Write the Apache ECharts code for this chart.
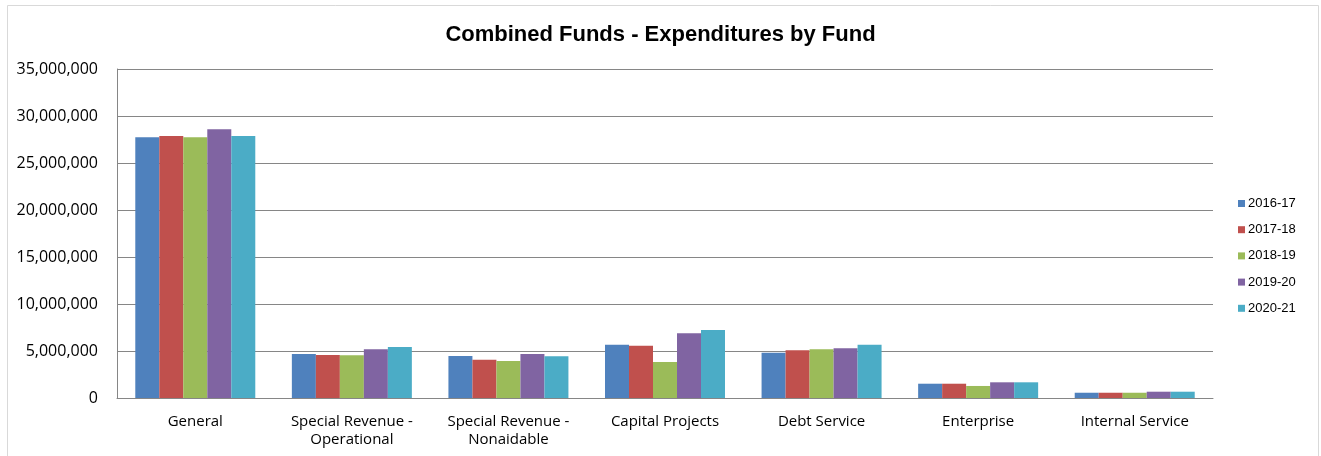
<!DOCTYPE html>
<html>
<head>
<meta charset="utf-8">
<script src="https://cdn.jsdelivr.net/npm/echarts@6/dist/echarts.min.js"></script>
<style>
html,body{margin:0;padding:0;background:#fff;}
#c{width:1321px;height:456px;}
</style>
</head>
<body>
<div id="c"></div>
<script>
const categories = ['General', 'Special Revenue -\nOperational', 'Special Revenue -\nNonaidable', 'Capital Projects', 'Debt Service', 'Enterprise', 'Internal Service'];
const seriesNames = ['2016-17', '2017-18', '2018-19', '2019-20', '2020-21'];
const fy2016 = [27730000, 4680000, 4470000, 5670000, 4820000, 1520000, 560000];
const fy2017 = [27870000, 4570000, 4070000, 5570000, 5070000, 1520000, 560000];
const fy2018 = [27750000, 4560000, 3940000, 3830000, 5180000, 1280000, 560000];
const fy2019 = [28580000, 5180000, 4680000, 6880000, 5290000, 1670000, 670000];
const fy2020 = [27870000, 5430000, 4430000, 7230000, 5670000, 1670000, 670000];
const colors = ['#4F81BD', '#C0504D', '#9BBB59', '#8064A2', '#4BACC6'];
const yTicks = { min: 0, max: 35000000, interval: 5000000 };

const allData = [fy2016, fy2017, fy2018, fy2019, fy2020];
const chart = echarts.init(document.getElementById('c'));
chart.setOption({
  animation: false,
  backgroundColor: '#fff',
  title: {
    text: 'Combined Funds - Expenditures by Fund',
    left: 'center', top: 19,
    textStyle: { fontFamily: 'Liberation Sans, Arial', fontWeight: 'bold', fontSize: 22, color: '#000' }
  },
  graphic: [{
    type: 'rect', shape: { x: 7.5, y: 5.5, width: 1311, height: 470 },
    style: { fill: 'none', stroke: '#d9d9d9', lineWidth: 1 }, silent: true
  }],
  legend: {
    orient: 'vertical', left: 1233, top: 192,
    itemWidth: 7, itemHeight: 7, itemGap: 13.2,
    icon: 'rect',
    textStyle: { fontFamily: 'Liberation Sans, Arial', fontSize: 13, color: '#000', padding: [0, 0, 0, -2] },
    data: seriesNames
  },
  grid: { left: 117, right: 108, top: 69, bottom: 58, containLabel: false },
  xAxis: {
    type: 'category', data: categories,
    axisLine: { lineStyle: { color: '#868686' } },
    axisTick: { show: false },
    axisLabel: { fontFamily: 'Open Sans', fontSize: 15, color: '#000', margin: 15, lineHeight: 18, interval: 0 }
  },
  yAxis: {
    type: 'value', min: yTicks.min, max: yTicks.max, interval: yTicks.interval,
    axisLine: { show: true, lineStyle: { color: '#868686' } },
    axisTick: { show: false },
    splitLine: { lineStyle: { color: '#868686' } },
    axisLabel: {
      fontFamily: 'Open Sans', fontSize: 16, color: '#000', margin: 19,
      formatter: v => v.toLocaleString('en-US')
    }
  },
  series: seriesNames.map((n, i) => ({
    name: n, type: 'bar', data: allData[i], barWidth: 24, barGap: '0%',
    itemStyle: { color: colors[i] }
  }))
});
</script>
</body>
</html>
